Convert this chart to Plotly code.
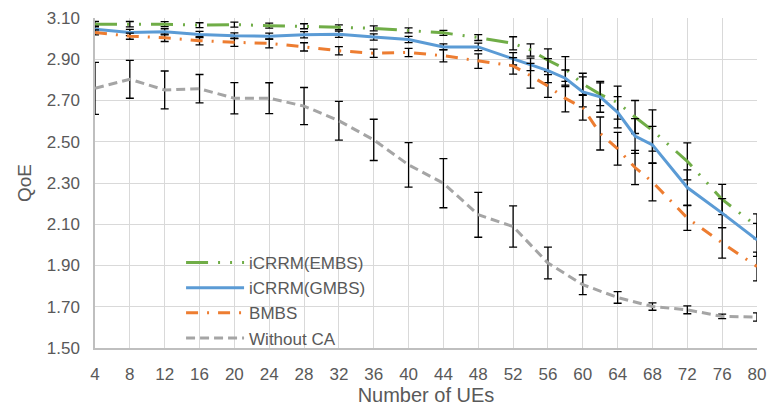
import plotly.graph_objects as go

# Number of UEs (the three iCRRM/BMBS series have extra samples between 52 and 68)
x_top = [4, 8, 12, 16, 20, 24, 28, 32, 36, 40, 44, 48, 52, 54, 56, 58, 60, 62, 64, 66, 68, 72, 76, 80]
x_ca = [4, 8, 12, 16, 20, 24, 28, 32, 36, 40, 44, 48, 52, 56, 60, 64, 68, 72, 76, 80]

embs = [3.07, 3.07, 3.07, 3.065, 3.068, 3.063, 3.06, 3.055, 3.05, 3.04, 3.028, 3.005,
        2.977, 2.945, 2.895, 2.853, 2.78, 2.73, 2.69, 2.62, 2.555, 2.405, 2.22, 2.09]
embs_err = [0.013, 0.013, 0.012, 0.012, 0.012, 0.012, 0.012, 0.012, 0.012, 0.012, 0.012, 0.014,
            0.032, 0.03, 0.055, 0.06, 0.052, 0.055, 0.08, 0.08, 0.1, 0.09, 0.073, 0.06]

gmbs = [3.045, 3.03, 3.033, 3.02, 3.014, 3.012, 3.019, 3.021, 3.008, 2.996, 2.96, 2.96,
        2.902, 2.875, 2.845, 2.808, 2.742, 2.718, 2.643, 2.528, 2.485, 2.278, 2.154, 2.024]
gmbs_err = [0.015, 0.015, 0.015, 0.015, 0.014, 0.015, 0.015, 0.015, 0.015, 0.015, 0.015, 0.018,
            0.03, 0.03, 0.058, 0.04, 0.073, 0.075, 0.076, 0.084, 0.09, 0.086, 0.07, 0.08]

bmbs = [3.03, 3.012, 3.004, 2.99, 2.982, 2.977, 2.96, 2.941, 2.929, 2.933, 2.917, 2.891,
        2.868, 2.82, 2.77, 2.71, 2.665, 2.54, 2.466, 2.375, 2.305, 2.13, 2.01, 1.895]
bmbs_err = [0.012, 0.015, 0.018, 0.02, 0.02, 0.022, 0.02, 0.02, 0.02, 0.02, 0.03, 0.035,
            0.04, 0.06, 0.055, 0.065, 0.06, 0.08, 0.079, 0.083, 0.092, 0.06, 0.074, 0.07]

no_ca = [2.759, 2.803, 2.751, 2.757, 2.711, 2.711, 2.673, 2.602, 2.509, 2.388, 2.299, 2.146,
         2.089, 1.912, 1.807, 1.745, 1.701, 1.685, 1.653, 1.65]
no_ca_err = [0.126, 0.092, 0.092, 0.069, 0.076, 0.075, 0.09, 0.094, 0.10, 0.108, 0.119, 0.109,
             0.10, 0.077, 0.048, 0.028, 0.018, 0.019, 0.011, 0.02]

x_ticks = list(range(4, 81, 4))
y_ticks = [1.5, 1.7, 1.9, 2.1, 2.3, 2.5, 2.7, 2.9, 3.1]

FONT = "Liberation Sans, Arial, sans-serif"
TXT = "#595959"


def err(arr):
    return dict(type="data", array=arr, visible=True, color="black", thickness=1.3, width=4)


series = [
    ("iCRRM(EMBS)", x_top, embs, embs_err, "#70AD47", "22px,10px,2px,10px,2px,10px"),
    ("iCRRM(GMBS)", x_top, gmbs, gmbs_err, "#5B9BD5", "solid"),
    ("BMBS", x_top, bmbs, bmbs_err, "#ED7D31", "12px,9px,2px,9px"),
    ("Without CA", x_ca, no_ca, no_ca_err, "#A5A5A5", "9px,5px"),
]

fig = go.Figure()
for name, xs, ys, es, color, dash in series:
    fig.add_trace(go.Scatter(
        x=xs, y=ys, name=name, mode="lines",
        line=dict(color=color, width=3, dash=dash),
        error_y=err(es),
    ))

fig.update_layout(
    width=768, height=406,
    margin=dict(l=95, r=11, t=18, b=58, autoexpand=False),
    paper_bgcolor="white", plot_bgcolor="white",
    font=dict(family=FONT, color=TXT, size=16),
    showlegend=True,
    legend=dict(
        x=0.130, y=0.312, xanchor="left", yanchor="top",
        bgcolor="rgba(0,0,0,0)", itemwidth=58,
        font=dict(family=FONT, size=17, color=TXT),
        tracegroupgap=0,
    ),
    # white backing panel behind the legend
    shapes=[dict(
        type="rect", xref="paper", yref="paper", layer="between",
        x0=0.003, x1=0.5227, y0=0.004, y1=0.294,
        fillcolor="white", line=dict(width=0),
    )],
)

fig.update_xaxes(
    automargin=False,
    range=[4, 80], tickvals=x_ticks, ticktext=[str(v) for v in x_ticks],
    showgrid=True, gridcolor="#D9D9D9", gridwidth=1.3,
    showline=True, linecolor="#BFBFBF", linewidth=1.5,
    ticks="outside", ticklen=6, tickcolor="rgba(0,0,0,0)", ticklabelstandoff=4,
    tickfont=dict(size=17, color=TXT),
    title=dict(text="Number of UEs", font=dict(size=20, color=TXT), standoff=4),
    zeroline=False,
)
fig.update_yaxes(
    automargin=False,
    range=[1.5, 3.1], tickvals=y_ticks, ticktext=[f"{v:.2f}" for v in y_ticks],
    showgrid=True, gridcolor="#D9D9D9", gridwidth=1.3,
    showline=True, linecolor="#BFBFBF", linewidth=1.5,
    ticks="", ticklabelstandoff=10,
    tickfont=dict(size=17, color=TXT),
    title=dict(text="QoE", font=dict(size=19, color=TXT), standoff=10),
    zeroline=False,
)

fig.write_html("out.html")
